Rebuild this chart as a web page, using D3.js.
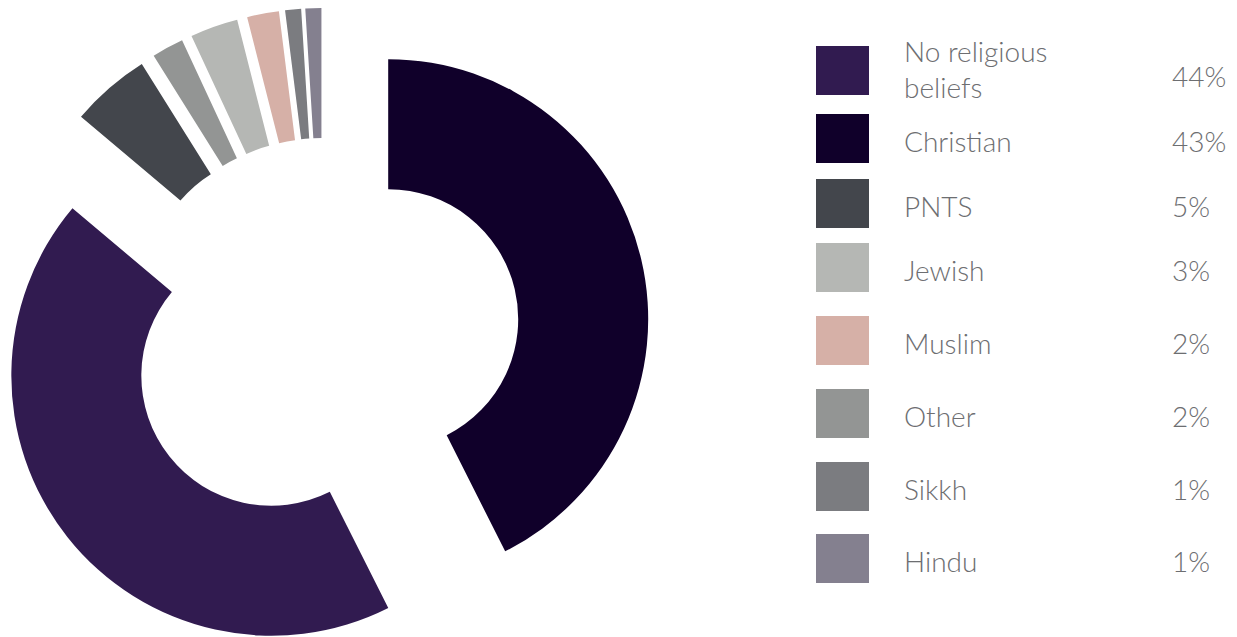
<!DOCTYPE html>
<html>
<head>
<meta charset="utf-8">
<script src="https://cdn.jsdelivr.net/npm/d3@7"></script>
<style>
  html, body { margin: 0; padding: 0; background: #ffffff; }
  svg { display: block; }
  .legend text { font-family: Lato, "Open Sans", sans-serif; font-weight: 300; fill: #6d6e71; font-size: 28px; }
</style>
</head>
<body>
<svg id="chart" width="1237" height="637"></svg>
<script>
// Religious affiliation shares (%), listed in legend order
const categories = ["No religious beliefs", "Christian", "PNTS", "Jewish", "Muslim", "Other", "Sikkh", "Hindu"];
const shares = [44, 43, 5, 3, 2, 2, 1, 1];
const sliceColors = ["#311b50", "#10002a", "#43464c", "#b5b7b4", "#d6b0a7", "#939594", "#7b7c80", "#84808f"];
// Order of slices around the ring, clockwise from 12 o'clock
const ringOrder = ["Christian", "No religious beliefs", "PNTS", "Other", "Jewish", "Muslim", "Sikkh", "Hindu"];

const svg = d3.select("#chart");

const color = d3.scaleOrdinal().domain(categories).range(sliceColors);
const shareOf = new Map(categories.map((c, i) => [c, shares[i]]));

// ---- exploded doughnut ----
const cx = 323.5, cy = 334.5;
const innerR = 130, outerR = 260, explode = 66.5;

const pie = d3.pie()
  .sort(null)
  .value(d => shareOf.get(d))
  .startAngle(0)
  .endAngle(2 * Math.PI);

const arc = d3.arc().innerRadius(innerR).outerRadius(outerR);

const ring = svg.append("g").attr("transform", `translate(${cx},${cy})`);

ring.selectAll("path")
  .data(pie(ringOrder))
  .join("path")
  .attr("d", arc)
  .attr("fill", d => color(d.data))
  .attr("transform", d => {
    const mid = (d.startAngle + d.endAngle) / 2;
    return `translate(${explode * Math.sin(mid)},${-explode * Math.cos(mid)})`;
  });

// ---- legend ----
const rowTops = [46, 114, 179, 243, 316, 389, 462, 534];
const swatchX = 816, swatchW = 53, swatchH = 49;
const labelX = 904, valueX = 1172, lineGap = 36, wrapWidth = 170;

const legend = svg.append("g").attr("class", "legend");

categories.forEach((cat, i) => {
  const top = rowTops[i];
  const mid = top + swatchH / 2;
  const row = legend.append("g");

  row.append("rect")
    .attr("x", swatchX).attr("y", top)
    .attr("width", swatchW).attr("height", swatchH)
    .attr("fill", color(cat));

  // word-wrap the label to the available width
  const label = row.append("text").attr("x", labelX);
  const words = cat.split(" ");
  const lines = [];
  let current = [];
  const probe = label.append("tspan");
  words.forEach(w => {
    const trial = current.concat(w).join(" ");
    probe.text(trial);
    if (probe.node().getComputedTextLength() > wrapWidth && current.length) {
      lines.push(current.join(" "));
      current = [w];
    } else {
      current.push(w);
    }
  });
  lines.push(current.join(" "));
  probe.remove();

  const n = lines.length;
  const firstBase = mid + 13.5 - (n - 1) * 22.5;
  lines.forEach((ln, k) => {
    label.append("tspan")
      .attr("x", labelX)
      .attr("y", firstBase + k * lineGap)
      .text(ln);
  });

  row.append("text")
    .attr("x", valueX)
    .attr("y", mid + 13.5 + (n - 1) * 2.5)
    .attr("text-anchor", "start")
    .text(shares[i] + "%");
});
</script>
</body>
</html>
